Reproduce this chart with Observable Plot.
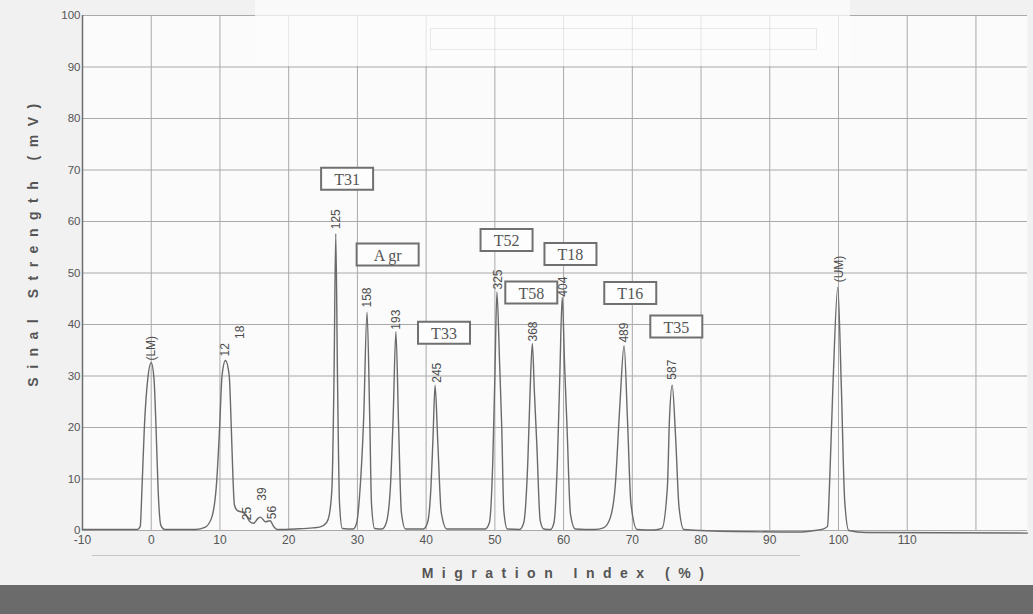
<!DOCTYPE html>
<html>
<head>
<meta charset="utf-8">
<script src="https://cdn.jsdelivr.net/npm/d3@7"></script>
<script src="https://cdn.jsdelivr.net/npm/@observablehq/plot@0.6"></script>
<style>
  html, body { margin: 0; padding: 0; }
  body { width: 1033px; height: 614px; overflow: hidden; position: relative; background: #f1f1f1; font-family: "Liberation Sans", Arial, sans-serif; }
  #chart { position: absolute; left: 0; top: 0; }
  #paste { position: absolute; left: 255px; top: 0; width: 595px; height: 66px; background: rgba(252,252,252,0.72); }
  #pastebox { position: absolute; left: 430px; top: 28px; width: 385px; height: 20px; border: 1px solid rgba(0,0,0,0.08); }
  #scanline { position: absolute; left: 92px; top: 555px; width: 708px; height: 1px; background: #c4c4c4; }
  #band { position: absolute; left: 0; top: 585px; width: 1033px; height: 29px; background: #6b6b6b; }
</style>
</head>
<body>
<div id="chart"></div>
<div id="paste"></div>
<div id="pastebox"></div>
<div id="scanline"></div>
<div id="band"></div>
<script>
// ---- data ----
const xTicks = [-10, 0, 10, 20, 30, 40, 50, 60, 70, 80, 90, 100, 110];
const xGrid = [-10, 0, 10, 20, 30, 40, 50, 60, 70, 80, 90, 100, 110, 120];
const yTicks = [0, 10, 20, 30, 40, 50, 60, 70, 80, 90, 100];

const xLabel = "Migration Index (%)";
const yLabel = "Sinal Strength (mV)";

// electropherogram trace: [migration index %, signal mV]
const trace = [
  [-10, 0.2], [-2.0, 0.2], [-1.6, 0.8], [-1.35, 8], [-1.0, 20], [-0.5, 29.5], [0, 32.6], [0.4, 29.5], [0.7, 20], [1.0, 8], [1.4, 1.0], [2.0, 0.2],
  [6.5, 0.2], [7.8, 0.6], [8.8, 2.5], [9.55, 10], [9.95, 20], [10.3, 30], [10.8, 33], [11.35, 30], [11.65, 20], [11.9, 10], [12.1, 5], [12.5, 3.9],
  [13.1, 3.6], [13.7, 3.2], [14.3, 1.8], [14.9, 1.4], [15.5, 2.3], [15.9, 2.6], [16.6, 1.7], [17.3, 1.9], [17.8, 0.8], [18.3, 0.2],
  [21, 0.3], [23.5, 0.5], [24.6, 0.7], [25.5, 1.5], [25.9, 3], [26.3, 8.4], [26.6, 30], [26.85, 57.6], [27.1, 30], [27.4, 5.2], [27.8, 0.4],
  [29.4, 0.3], [29.9, 1.5], [30.3, 6.5], [30.9, 21.4], [31.4, 42.4], [31.8, 21.4], [32.05, 5.2], [32.5, 0.4],
  [33.6, 0.3], [34.2, 1.5], [34.8, 8.4], [35.2, 22], [35.6, 38.6], [36.0, 20], [36.4, 3.5], [37.0, 0.3],
  [39.6, 0.3], [40.2, 1.5], [40.7, 8.4], [41.0, 18], [41.3, 28.2], [41.7, 17], [42.2, 3.5], [43.0, 0.3],
  [48.6, 0.3], [49.2, 1.5], [49.7, 13.6], [50.0, 30], [50.3, 46.3], [50.7, 32], [51.0, 20.1], [51.3, 3.9], [51.8, 0.3],
  [53.6, 0.2], [54.2, 1.5], [54.8, 13.6], [55.1, 26], [55.45, 36.3], [55.75, 27], [56.1, 16.8], [56.6, 1.9], [57.1, 0.3],
  [58.1, 0.2], [58.6, 1.5], [59.1, 13.6], [59.45, 30], [59.8, 45.3], [60.15, 32], [60.5, 20.1], [61.0, 3.2], [61.7, 0.3],
  [64.5, 0.2], [65.8, 0.5], [66.8, 2.5], [67.5, 8.4], [68.2, 24.6], [68.8, 35.9], [69.3, 21.4], [69.8, 5.2], [70.7, 0.2],
  [73.2, 0.1], [74.3, 0.4], [75.1, 8.4], [75.4, 21.4], [75.8, 28.2], [76.3, 18.1], [76.8, 4.5], [77.5, 0.2],
  [85, -0.2], [94, -0.3], [96.5, 0], [97.8, 0.3],
  [98.4, 0.8], [98.7, 9.1], [99.2, 28.5], [99.9, 47.2], [100.4, 28.5], [100.9, 5.8], [101.5, 0], [104, -0.4], [127.5, -0.5]
];

// peak size labels (vertical text above peaks)
const peakNames = ["(LM)", "12", "18", "25", "39", "56", "125", "158", "193", "245", "325", "368", "404", "489", "587", "(UM)"];
const peakX = [0, 10.8, 13.0, 13.9, 16.1, 17.6, 26.9, 31.4, 35.6, 41.6, 50.5, 55.5, 59.9, 68.8, 75.8, 100.05];
const peakY = [32.8, 33.6, 37.0, 1.8, 5.6, 2.0, 58.3, 43.1, 38.8, 28.5, 46.6, 36.5, 45.2, 36.3, 29.1, 48.0];

// boxed species labels
const boxNames = ["T31", "A gr", "T52", "T18", "T58", "T16", "T33", "T35"];
const boxX = [28.5, 34.4, 51.7, 61.0, 55.3, 69.7, 42.6, 76.4];
const boxY = [68.3, 53.6, 56.4, 53.7, 46.2, 46.1, 38.4, 39.6];

// ---- build tables ----
const peaks = peakNames.map((name, i) => ({name, x: peakX[i], y: peakY[i]}));
const boxes = boxNames.map((name, i) => ({name, x: boxX[i], y: boxY[i]}));

const boxSymbol = {
  draw(ctx, size) {
    const w = Math.sqrt(size / Math.PI);
    ctx.moveTo(-w / 2, -11);
    ctx.lineTo(w / 2, -11);
    ctx.lineTo(w / 2, 11);
    ctx.lineTo(-w / 2, 11);
    ctx.closePath();
  }
};

const plot = Plot.plot({
  width: 1033,
  height: 585,
  marginLeft: 82,
  marginRight: 6,
  marginTop: 15,
  marginBottom: 55,
  style: {background: "transparent", fontFamily: "Liberation Sans, Arial, sans-serif", color: "#555", overflow: "visible"},
  x: {domain: [-10, 127.5], ticks: xTicks, tickSize: 0, tickPadding: 5, label: null, tickFormat: d => String(d)},
  y: {domain: [0, 100], ticks: yTicks, tickSize: 0, tickPadding: 2, label: null},
  r: {type: "identity"},
  marks: [
    Plot.frame({fill: "#fbfbfb", stroke: null}),
    Plot.ruleX(xGrid, {stroke: "#a9a9a9", strokeWidth: 1}),
    Plot.ruleY(yTicks, {stroke: "#a9a9a9", strokeWidth: 1}),
    Plot.ruleX([-10], {stroke: "#6e6e6e", strokeWidth: 1.5}),
    Plot.line(trace, {x: d => d[0], y: d => d[1], curve: "monotone-x", stroke: "#6a6a6a", strokeWidth: 1.4}),
    Plot.text(peaks, {x: "x", y: "y", text: "name", rotate: -90, textAnchor: "start", lineAnchor: "middle", fontSize: 12, fill: "#4d4d4d", dy: -1}),
    Plot.dot(boxes, {x: "x", y: "y", symbol: boxSymbol, r: d => 22 + 10 * d.name.length, fill: "#fdfdfd", stroke: "#707070", strokeWidth: 2}),
    Plot.text(boxes, {x: "x", y: "y", text: "name", fontFamily: "Liberation Serif, Times New Roman, serif", fontSize: 16, fill: "#555", dy: 1}),
    Plot.text([xLabel], {frameAnchor: "bottom", textAnchor: "middle", text: d => d, dy: 47, dx: 12, fontSize: 14, fontWeight: "bold", fill: "#555"}),
    Plot.text([yLabel], {frameAnchor: "left", textAnchor: "middle", lineAnchor: "middle", text: d => d, rotate: -90, dx: -49, dy: -32, fontSize: 14, fontWeight: "bold", fill: "#555"})
  ]
});

d3.select(plot).selectAll("text")
  .filter(function () { return this.textContent === xLabel || this.textContent === yLabel; })
  .attr("letter-spacing", "8.5px");
d3.select(plot).selectAll('g[aria-label="x-axis tick label"] text, g[aria-label="y-axis tick label"] text')
  .attr("fill", "#555");
d3.select(plot).selectAll('g[aria-label="x-axis tick label"]').attr("font-size", 12);
d3.select(plot).selectAll('g[aria-label="y-axis tick label"]').attr("font-size", 11.5);

document.getElementById("chart").appendChild(plot);
</script>
</body>
</html>
